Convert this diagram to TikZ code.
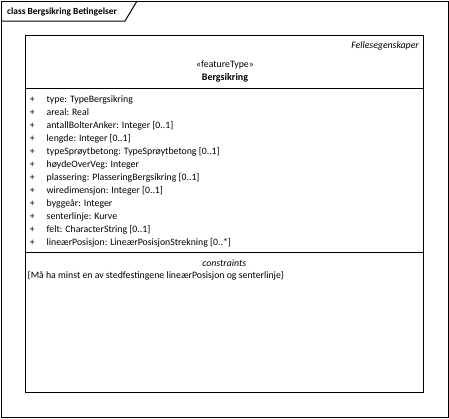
\documentclass[tikz,border=0pt]{standalone}
\usepackage{fontspec}
\setmainfont{Carlito}
\usetikzlibrary{positioning}

\begin{document}
\begin{tikzpicture}[x=1pt,y=-1pt,
   every node/.style={inner sep=0pt,font=\fontsize{9.8}{11}\selectfont},
   attr/.style={anchor=base west},
   plus/.style={anchor=base},
   boxline/.style={line width=1pt}]
\useasboundingbox (0,0) rectangle (449,418);
% frame
\draw[boxline] (1,1) rectangle (448,417);
\node[anchor=base west,font=\fontsize{9.4}{11}\selectfont\bfseries] (title) at (7,14) {class Bergsikring Betingelser};
\draw[boxline] (1,21) -- (125,21) -- (137,1);
% class box
\coordinate (nw) at (25,35);
\coordinate (se) at (423,392);
\draw[boxline] (nw) rectangle (se);
\node[anchor=base east,font=\fontsize{9.8}{11}\selectfont\itshape] (tagged) at (419,48) {Fellesegenskaper};
\node[anchor=base] (stereo) at (225,67) {«featureType»};
\node[anchor=base,font=\fontsize{10}{11}\selectfont\bfseries] (cname) at (225,80.5) {Bergsikring};
\coordinate (sepA) at (25,88.3);
\coordinate (sepB) at (25,252.7);
\draw[boxline] (sepA) -- (sepA -| se);
\draw[boxline] (sepB) -- (sepB -| se);
% attributes
\foreach \i/\txt in {1/{type: TypeBergsikring},
                     2/{areal: Real},
                     3/{antallBolterAnker: Integer [0..1]},
                     4/{lengde: Integer [0..1]},
                     5/{typeSprøytbetong: TypeSprøytbetong [0..1]},
                     6/{høydeOverVeg: Integer},
                     7/{plassering: PlasseringBergsikring [0..1]},
                     8/{wiredimensjon: Integer [0..1]},
                     9/{byggeår: Integer},
                     10/{senterlinje: Kurve},
                     11/{felt: CharacterString [0..1]},
                     12/{lineærPosisjon: LineærPosisjonStrekning [0..*]}}
{
  \node[plus] (plus\i) at (32.3,{102+13*(\i-1)}) {+};
  \node[attr] (attr\i) at (46.5,{102+13*(\i-1)}) {\txt};
}
% constraints
\node[anchor=base,font=\fontsize{9.8}{11}\selectfont\itshape] (constr) at (224.3,266) {constraints};
\node[anchor=base west] (rule) at (27.5,278) {\{Må ha minst en av stedfestingene lineærPosisjon og senterlinje\}};
\end{tikzpicture}
\end{document}
